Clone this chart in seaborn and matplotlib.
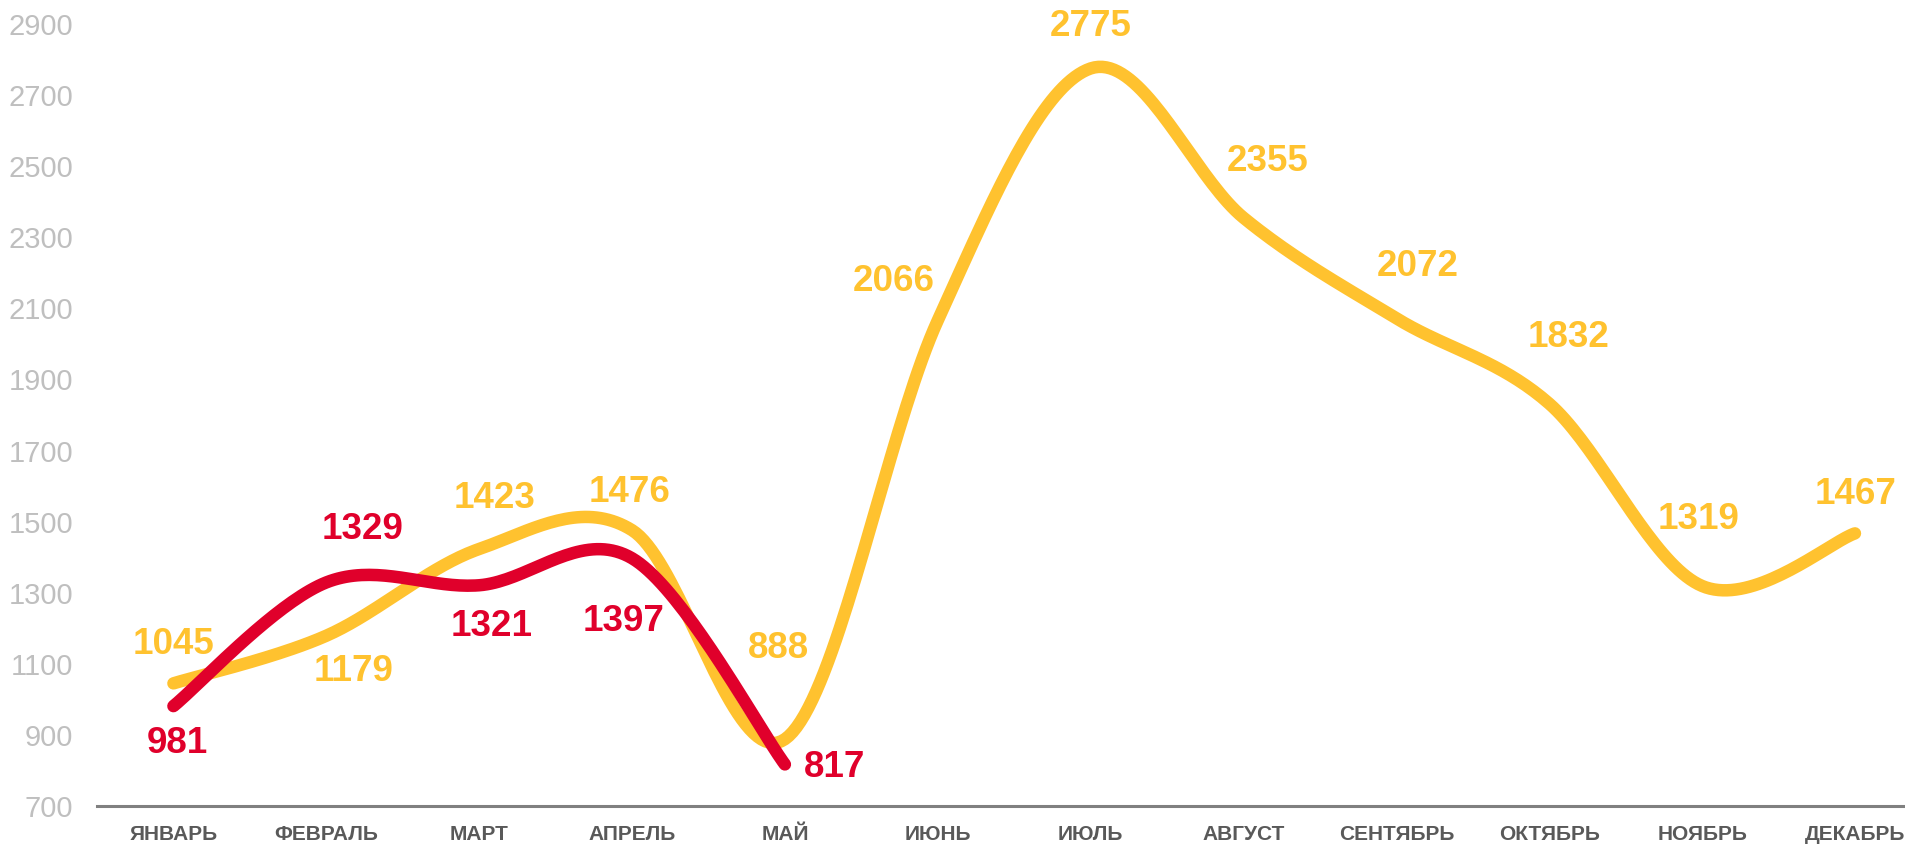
import numpy as np
import pandas as pd
import matplotlib
matplotlib.use("Agg")
import matplotlib.pyplot as plt
import seaborn as sns

# Data
months = ["ЯНВАРЬ", "ФЕВРАЛЬ", "МАРТ", "АПРЕЛЬ", "МАЙ", "ИЮНЬ",
          "ИЮЛЬ", "АВГУСТ", "СЕНТЯБРЬ", "ОКТЯБРЬ", "НОЯБРЬ", "ДЕКАБРЬ"]
prev_year = [1045, 1179, 1423, 1476, 888, 2066, 2775, 2355, 2072, 1832, 1319, 1467]
this_year = [981, 1329, 1321, 1397, 817]

YELLOW = "#FFC22F"
RED = "#E0002B"

# label offsets in pixels (dx, dy) for each point
prev_offsets = [(0, 39), (27, -36), (15, 51), (-2, 38), (-6, 91), (-44, 39),
                (0, 42), (24, 56), (21, 52), (19, 66), (-4, 66), (1, 39)]
this_offsets = [(4, -37), (36, 53), (12, -41), (-8, -63), (50, -3)]


def smooth(y, n=40):
    """Excel-like smoothed line (Catmull-Rom as cubic Bezier)."""
    p = np.asarray(y, dtype=float)
    x = np.arange(len(p), dtype=float)
    xs, ys = [], []
    t = np.linspace(0, 1, n)
    for i in range(len(p) - 1):
        i0, i3 = max(i - 1, 0), min(i + 2, len(p) - 1)
        for arr, out in ((x, xs), (p, ys)):
            b0 = arr[i]
            b3 = arr[i + 1]
            b1 = b0 + (arr[i + 1] - arr[i0]) / 6
            b2 = b3 - (arr[i3] - arr[i]) / 6
            out.extend((1 - t) ** 3 * b0 + 3 * (1 - t) ** 2 * t * b1
                       + 3 * (1 - t) * t ** 2 * b2 + t ** 3 * b3)
    return pd.DataFrame({"x": xs, "y": ys})


sns.set_theme(style="white")
plt.rcParams["font.family"] = ["Liberation Sans", "DejaVu Sans"]

fig = plt.figure(figsize=(19.06, 8.44), dpi=100)
ax = fig.add_axes([97 / 1906, 38 / 844, 1 - 97 / 1906, (806 - 24) / 844])

sns.lineplot(data=smooth(prev_year), x="x", y="y", ax=ax, color=YELLOW,
             linewidth=9, sort=False, estimator=None)
sns.lineplot(data=smooth(this_year), x="x", y="y", ax=ax, color=RED,
             linewidth=9, sort=False, estimator=None)
for line in ax.lines:
    line.set_solid_capstyle("round")

for i, v in enumerate(prev_year):
    ax.annotate(str(v), (i, v), xytext=prev_offsets[i], textcoords="offset pixels",
                ha="center", va="center", color=YELLOW, fontsize=26.5,
                fontweight="bold", annotation_clip=False)
for i, v in enumerate(this_year):
    ax.annotate(str(v), (i, v), xytext=this_offsets[i], textcoords="offset pixels",
                ha="center", va="center", color=RED, fontsize=26.5,
                fontweight="bold", annotation_clip=False)

ax.set_xlim(-0.5, 11.334)
ax.set_ylim(700, 2900)
ax.set_yticks(range(700, 3000, 200))
ax.set_xticks(range(len(months)))
ax.set_xticklabels(months, fontsize=15, fontweight="bold", color="#595959",
                   family=["Liberation Sans Narrow", "Liberation Sans", "DejaVu Sans"])
ax.tick_params(axis="y", labelsize=21, labelcolor="#BFBFBF", length=0, pad=17)
ax.tick_params(axis="x", length=0, pad=14)
ax.set_xlabel("")
ax.set_ylabel("")

for s in ["top", "right", "left"]:
    ax.spines[s].set_visible(False)
ax.spines["bottom"].set_color("#808080")
ax.spines["bottom"].set_linewidth(2.2)

fig.savefig("out.png", dpi=100)
